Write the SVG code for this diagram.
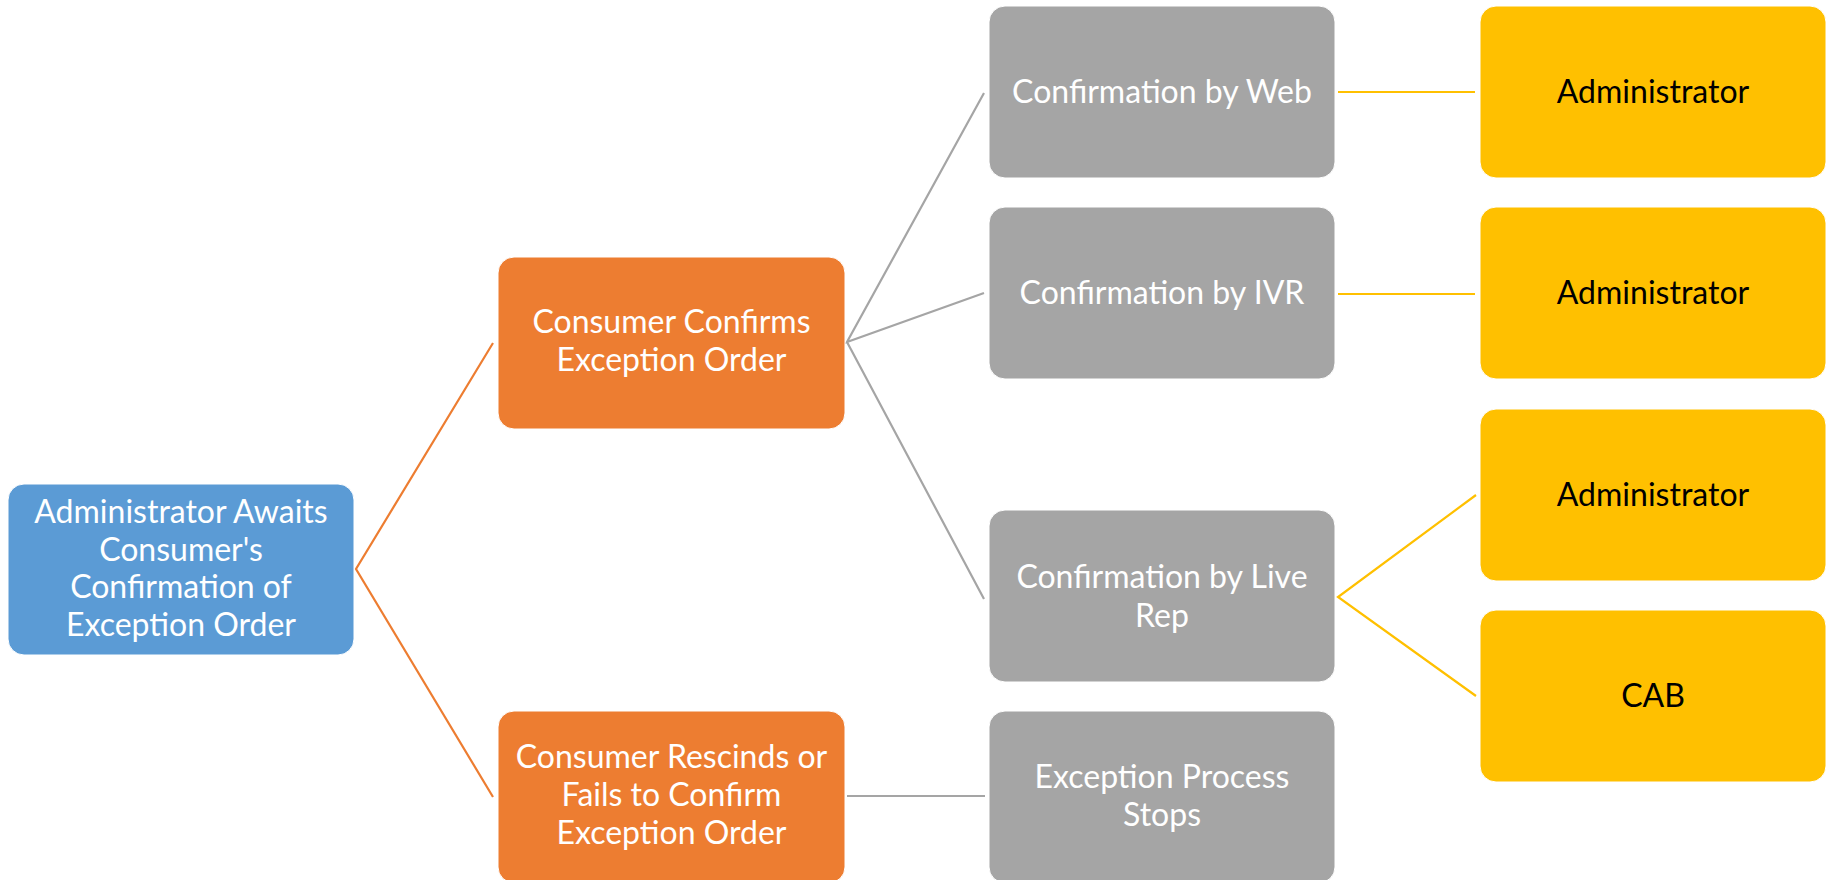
<svg xmlns="http://www.w3.org/2000/svg" width="1835" height="880" viewBox="0 0 1835 880">
<style>
.box{stroke:#ffffff;stroke-width:1}
.blue{fill:#5B9BD5}
.orange{fill:#ED7D31}
.gray{fill:#A5A5A5}
.yellow{fill:#FFC000}
.t{font-family:Lato,"Liberation Sans",sans-serif;font-size:32px;text-anchor:middle}
.w{fill:#ffffff}
.k{fill:#000000}
.c{fill:none;stroke-width:2.2}
.co{stroke:#ED7D31}
.cg{stroke:#A5A5A5}
.cy{stroke:#FFC000}
</style>
<rect width="1835" height="880" fill="#ffffff"/>
<g id="connectors">
<path class="c co" d="M493,343 L356,569 L493,797"/>
<path class="c cg" d="M984,93 L847,342 L984,293 M847,342 L984,599"/>
<path class="c cg" d="M847,796 L985,796"/>
<path class="c cy" d="M1338,92 L1475,92"/>
<path class="c cy" d="M1338,294 L1475,294"/>
<path class="c cy" d="M1476,495 L1338,597 L1476,696"/>
</g>
<g id="n-root">
<rect class="box blue" x="8" y="484" width="346" height="171" rx="16"/>
<text class="t w" x="181" y="523">Administrator Awaits</text>
<text class="t w" x="181" y="561">Consumer's</text>
<text class="t w" x="181" y="598">Confirmation of</text>
<text class="t w" x="181" y="636">Exception Order</text>
</g>
<g id="n-confirms">
<rect class="box orange" x="498" y="257" width="347" height="172" rx="16"/>
<text class="t w" x="671.5" y="333">Consumer Confirms</text>
<text class="t w" x="671.5" y="371">Exception Order</text>
</g>
<g id="n-rescinds">
<rect class="box orange" x="498" y="711" width="347" height="172" rx="16"/>
<text class="t w" x="671.5" y="768">Consumer Rescinds or</text>
<text class="t w" x="671.5" y="806">Fails to Confirm</text>
<text class="t w" x="671.5" y="844">Exception Order</text>
</g>
<g id="n-web">
<rect class="box gray" x="989" y="6" width="346" height="172" rx="16"/>
<text class="t w" x="1162" y="103">Confirmation by Web</text>
</g>
<g id="n-ivr">
<rect class="box gray" x="989" y="207" width="346" height="172" rx="16"/>
<text class="t w" x="1162" y="304">Confirmation by IVR</text>
</g>
<g id="n-live">
<rect class="box gray" x="989" y="510" width="346" height="172" rx="16"/>
<text class="t w" x="1162" y="588">Confirmation by Live</text>
<text class="t w" x="1162" y="627">Rep</text>
</g>
<g id="n-stops">
<rect class="box gray" x="989" y="711" width="346" height="172" rx="16"/>
<text class="t w" x="1162" y="788">Exception Process</text>
<text class="t w" x="1162" y="826">Stops</text>
</g>
<g id="n-admin1">
<rect class="box yellow" x="1480" y="6" width="346" height="172" rx="16"/>
<text class="t k" x="1653" y="103">Administrator</text>
</g>
<g id="n-admin2">
<rect class="box yellow" x="1480" y="207" width="346" height="172" rx="16"/>
<text class="t k" x="1653" y="304">Administrator</text>
</g>
<g id="n-admin3">
<rect class="box yellow" x="1480" y="409" width="346" height="172" rx="16"/>
<text class="t k" x="1653" y="506">Administrator</text>
</g>
<g id="n-cab">
<rect class="box yellow" x="1480" y="610" width="346" height="172" rx="16"/>
<text class="t k" x="1653" y="707">CAB</text>
</g>
</svg>
